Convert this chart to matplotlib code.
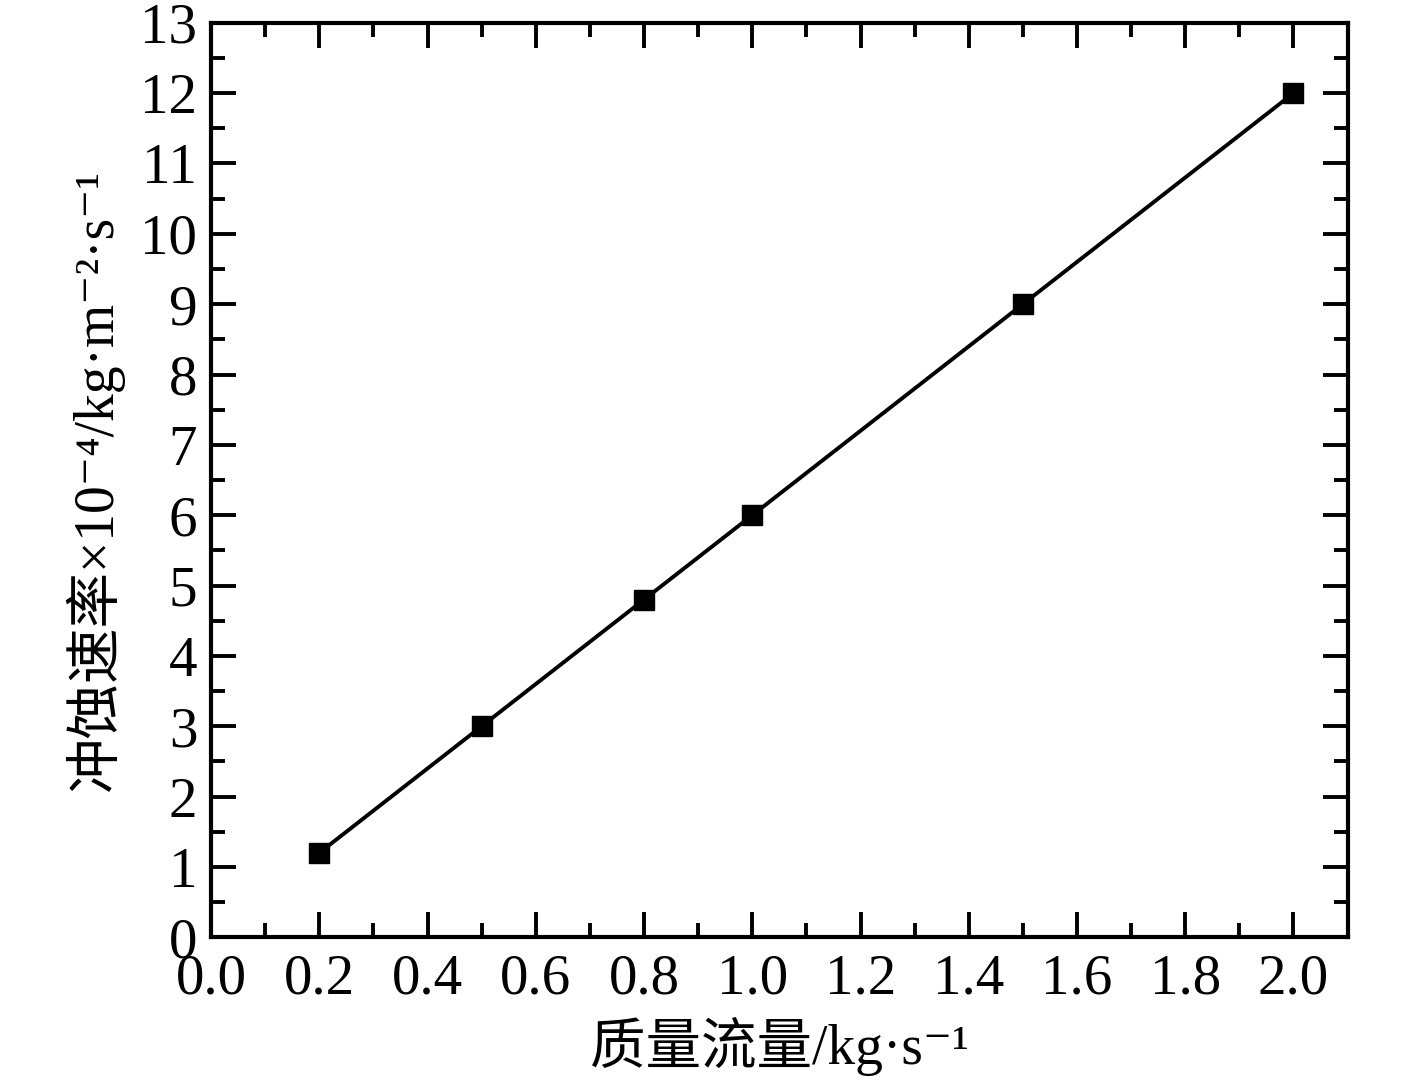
import numpy as np
import matplotlib
matplotlib.use("Agg")
import matplotlib.pyplot as plt
from matplotlib.ticker import MultipleLocator

# data
mass_flow = [0.2, 0.5, 0.8, 1.0, 1.5, 2.0]
erosion_rate = [1.2, 3.0, 4.8, 6.0, 9.0, 12.0]

plt.rcParams['font.family'] = ['Liberation Serif', 'Noto Sans CJK SC', 'DejaVu Sans']
plt.rcParams['axes.unicode_minus'] = False

fig = plt.figure(figsize=(14.17, 10.86), dpi=100)
ax = fig.add_axes([0.149, 0.137, 0.802, 0.842])

ax.plot(mass_flow, erosion_rate, color='black', linewidth=2.8,
        marker='s', markersize=15, markerfacecolor='black', markeredgecolor='black')

ax.set_xlim(0, 2.1)
ax.set_ylim(0, 13)
ax.xaxis.set_major_locator(MultipleLocator(0.2))
ax.xaxis.set_minor_locator(MultipleLocator(0.1))
ax.yaxis.set_major_locator(MultipleLocator(1))
ax.yaxis.set_minor_locator(MultipleLocator(0.5))
ax.xaxis.set_major_formatter(plt.FormatStrFormatter('%.1f'))

ax.tick_params(which='both', direction='in', top=True, right=True,
               width=2.8, labelsize=41)
ax.tick_params(axis='x', pad=12)
ax.tick_params(axis='y', pad=10)
ax.tick_params(which='major', length=18)
ax.tick_params(which='minor', length=10)
for s in ax.spines.values():
    s.set_linewidth(3)

ax.set_xlabel('质量流量/kg·s⁻¹', fontsize=40, labelpad=8)
ax.set_ylabel('冲蚀速率×10⁻⁴/kg·m⁻²·s⁻¹', fontsize=40, labelpad=12)

fig.savefig('out.png', dpi=100)
